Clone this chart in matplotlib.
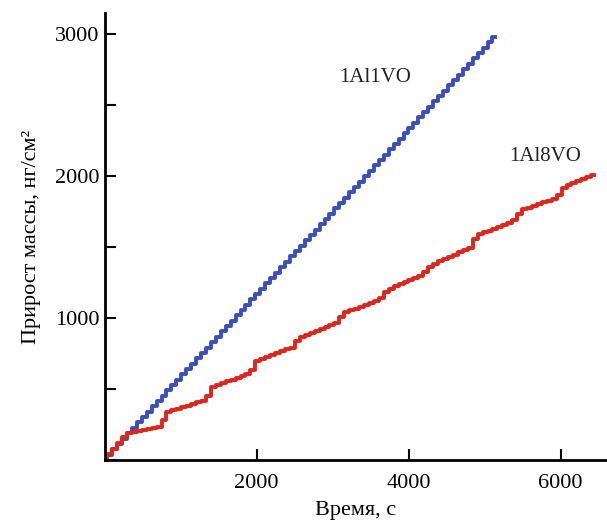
import matplotlib
matplotlib.use("Agg")
import matplotlib.pyplot as plt
from matplotlib.ticker import MultipleLocator

plt.rcParams['font.family'] = ['Liberation Serif', 'DejaVu Serif']

# 1Al1VO, samples every 65 s
t_blue = [0, 65, 130, 195, 260, 325, 390, 455, 520, 585,
          650, 715, 780, 845, 910, 975, 1040, 1105, 1170, 1235,
          1300, 1365, 1430, 1495, 1560, 1625, 1690, 1755, 1820, 1885,
          1950, 2015, 2080, 2145, 2210, 2275, 2340, 2405, 2470, 2535,
          2600, 2665, 2730, 2795, 2860, 2925, 2990, 3055, 3120, 3185,
          3250, 3315, 3380, 3445, 3510, 3575, 3640, 3705, 3770, 3835,
          3900, 3965, 4030, 4095, 4160, 4225, 4290, 4355, 4420, 4485,
          4550, 4615, 4680, 4745, 4810, 4875, 4940, 5005, 5070, 5135]
m_blue = [0, 38, 75, 113, 151, 189, 226, 264, 302, 339,
          377, 415, 452, 490, 528, 566, 603, 641, 679, 716,
          754, 792, 829, 867, 905, 943, 980, 1018, 1056, 1093,
          1131, 1169, 1206, 1244, 1282, 1320, 1357, 1395, 1433, 1470,
          1508, 1546, 1583, 1621, 1659, 1697, 1734, 1772, 1810, 1847,
          1885, 1923, 1960, 1998, 2036, 2074, 2111, 2149, 2187, 2224,
          2262, 2300, 2337, 2375, 2413, 2451, 2488, 2526, 2564, 2601,
          2639, 2677, 2714, 2752, 2790, 2828, 2865, 2903, 2941, 2978]

# 1Al8VO
t_red = t_blue + [5200, 5265, 5330, 5395, 5460, 5525, 5590, 5655, 5720, 5785,
                  5850, 5915, 5980, 6045, 6110, 6175, 6240, 6305, 6370, 6435]
m_red = [0, 40, 80, 120, 160, 192, 198, 205, 211, 218,
         224, 231, 285, 340, 351, 362, 372, 383, 394, 405,
         416, 450, 517, 530, 542, 554, 566, 579, 591, 603,
         637, 698, 712, 726, 740, 754, 767, 779, 792, 836,
         866, 880, 894, 908, 922, 936, 950, 965, 1007, 1040,
         1053, 1066, 1079, 1092, 1105, 1118, 1139, 1182, 1207, 1222,
         1237, 1252, 1267, 1282, 1297, 1322, 1357, 1382, 1398, 1414,
         1430, 1446, 1462, 1478, 1496, 1553, 1591, 1603, 1616, 1629,
         1642, 1655, 1668, 1691, 1733, 1765, 1777, 1789, 1802, 1814,
         1826, 1838, 1866, 1914, 1934, 1948, 1962, 1976, 1990, 2004]

fig = plt.figure(figsize=(6.07, 5.23), dpi=100)
ax = fig.add_axes([0.1725, 0.1205, 0.8275, 0.8547])

ax.plot(t_blue, m_blue, drawstyle='steps-mid', color='#3a4fbf', lw=2.8)
ax.plot(t_red, m_red, drawstyle='steps-mid', color='#e0261b', lw=2.8)

ax.text(3557, 2697, '1Al1VO', fontsize=15, ha='center', va='center', color='#222222')
ax.text(5793, 2134, '1Al8VO', fontsize=15, ha='center', va='center', color='#222222')

ax.set_xlim(0, 6610)
ax.set_ylim(0, 3148)
ax.set_xticks([2000, 4000, 6000])
ax.set_yticks([1000, 2000, 3000])
ax.yaxis.set_minor_locator(MultipleLocator(500))
ax.tick_params(direction='in', length=8, width=1.5, labelsize=16, colors='black')
ax.tick_params(which='minor', direction='in', length=8, width=1.5)
ax.tick_params(axis='x', pad=10)
ax.tick_params(axis='y', pad=4)

for s in ['top', 'right']:
    ax.spines[s].set_visible(False)
for s in ['left', 'bottom']:
    ax.spines[s].set_linewidth(2)

ax.set_xlabel('Время, с', fontsize=16, labelpad=6)
ax.set_ylabel('Прирост массы, нг/см²', fontsize=16, labelpad=10)

fig.savefig('out.png', dpi=100)
